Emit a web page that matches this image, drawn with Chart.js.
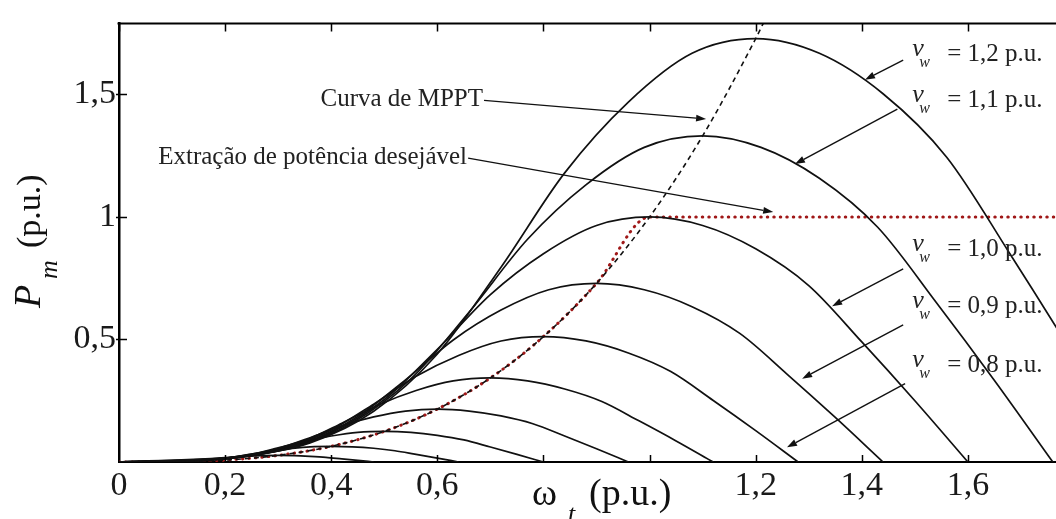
<!DOCTYPE html>
<html><head><meta charset="utf-8">
<script src="https://cdn.jsdelivr.net/npm/chart.js@4.4.0/dist/chart.umd.min.js"></script>
<style>html,body{margin:0;padding:0;background:#fff;overflow:hidden}#wrap{width:1056px;height:519px;position:relative}</style>
</head><body><div id="wrap"><canvas id="c"></canvas></div>
<script>
// ---- tick labels ----
const xTickLabels = ['0','0,2','0,4','0,6','','','1,2','1,4','1,6'];
const yTickLabels = ['','0,5','1','1,5'];

// ---- power curves P_m(omega_t) for each wind speed v_w, points [omega, P] ----
const curve_12 = [[0,0],[0.24,0.026],[0.36,0.078],[0.48,0.207],[0.60,0.441],[0.72,0.795],[0.84,1.180],[0.96,1.469],[1.08,1.668],[1.20,1.728],[1.32,1.668],[1.44,1.503],[1.56,1.244],[1.68,0.847],[1.80,0.432],[1.92,0]];
const curve_11 = [[0,0],[0.22,0.020],[0.33,0.060],[0.44,0.160],[0.55,0.339],[0.66,0.612],[0.77,0.909],[0.88,1.131],[0.99,1.284],[1.10,1.331],[1.21,1.284],[1.32,1.158],[1.43,0.958],[1.54,0.652],[1.65,0.333],[1.76,0]];
const curve_10 = [[0,0],[0.20,0.015],[0.30,0.045],[0.40,0.120],[0.50,0.255],[0.60,0.460],[0.70,0.683],[0.80,0.850],[0.90,0.965],[1.00,1.000],[1.10,0.965],[1.20,0.870],[1.30,0.720],[1.40,0.490],[1.50,0.250],[1.60,0]];
const curve_09 = [[0,0],[0.18,0.011],[0.27,0.033],[0.36,0.087],[0.45,0.186],[0.54,0.335],[0.63,0.498],[0.72,0.620],[0.81,0.703],[0.90,0.729],[0.99,0.703],[1.08,0.634],[1.17,0.525],[1.26,0.357],[1.35,0.182],[1.44,0]];
const curve_08 = [[0,0],[0.16,0.008],[0.24,0.023],[0.32,0.061],[0.40,0.131],[0.48,0.236],[0.56,0.350],[0.64,0.435],[0.72,0.494],[0.80,0.512],[0.88,0.494],[0.96,0.445],[1.04,0.369],[1.12,0.251],[1.20,0.128],[1.28,0]];
const curve_07 = [[0,0],[0.14,0.005],[0.21,0.015],[0.28,0.041],[0.35,0.087],[0.42,0.158],[0.49,0.234],[0.56,0.292],[0.63,0.331],[0.70,0.343],[0.77,0.331],[0.84,0.298],[0.91,0.247],[0.98,0.168],[1.05,0.086],[1.12,0]];
const curve_06 = [[0,0],[0.12,0.003],[0.18,0.010],[0.24,0.026],[0.30,0.055],[0.36,0.099],[0.42,0.148],[0.48,0.184],[0.54,0.208],[0.60,0.216],[0.66,0.208],[0.72,0.188],[0.78,0.156],[0.84,0.106],[0.90,0.054],[0.96,0]];
const curve_05 = [[0,0],[0.10,0.002],[0.15,0.006],[0.20,0.015],[0.25,0.032],[0.30,0.058],[0.35,0.085],[0.40,0.106],[0.45,0.121],[0.50,0.125],[0.55,0.121],[0.60,0.109],[0.65,0.090],[0.70,0.061],[0.75,0.031],[0.80,0]];
const curve_04 = [[0,0],[0.08,0.001],[0.12,0.003],[0.16,0.008],[0.20,0.016],[0.24,0.029],[0.28,0.044],[0.32,0.054],[0.36,0.062],[0.40,0.064],[0.44,0.062],[0.48,0.056],[0.52,0.046],[0.56,0.031],[0.60,0.016],[0.64,0]];
const curve_03 = [[0,0],[0.06,0],[0.09,0.001],[0.12,0.003],[0.15,0.007],[0.18,0.012],[0.21,0.018],[0.24,0.023],[0.27,0.026],[0.30,0.027],[0.33,0.026],[0.36,0.023],[0.39,0.019],[0.42,0.013],[0.45,0.007],[0.48,0]];

// MPPT curve (locus of the maxima)
const mpptCurve = [[0,0],[0.1,0.001],[0.2,0.008],[0.3,0.027],[0.4,0.064],[0.5,0.125],[0.6,0.216],[0.7,0.343],[0.8,0.512],[0.9,0.729],[1.0,1.0],[1.1,1.331],[1.2,1.728],[1.22,1.816]];
// desired power extraction
const desiredCurve = [[0,0],[0.1,0.001],[0.2,0.008],[0.3,0.027],[0.4,0.064],[0.5,0.125],[0.6,0.216],[0.7,0.343],[0.8,0.512],[0.9,0.729],[1.0,1.0],[1.8,1.0]];

// ---- annotation texts ----
const windLabels = ['= 1,2 p.u.','= 1,1 p.u.','= 1,0 p.u.','= 0,9 p.u.','= 0,8 p.u.'];
const mpptLabel = 'Curva de MPPT';
const desiredLabel = 'Extração de potência desejável';

// annotation anchors in data coordinates
const windLabelAnchors = [[1.495,1.636],[1.495,1.448],[1.495,0.84],[1.495,0.608],[1.495,0.368]];
const windArrows = [
  [[1.478,1.64],[1.406,1.56]],
  [[1.467,1.44],[1.274,1.216]],
  [[1.478,0.788],[1.344,0.636]],
  [[1.478,0.56],[1.2875,0.34]],
  [[1.4816,0.32],[1.259,0.06]]
];
const mpptArrow = [[0.688,1.476],[1.1065,1.40]];
const desiredArrow = [[0.658,1.24],[1.233,1.02]];
const mpptLabelAnchor = [0.686,1.48];
const desiredLabelAnchor = [0.656,1.244];

const toXY = arr => arr.map(p => ({x:p[0], y:p[1]}));
const SERIF = '"Liberation Serif", "Times New Roman", serif';

const curveList = [curve_12,curve_11,curve_10,curve_09,curve_08,curve_07,curve_06,curve_05,curve_04,curve_03];
const datasets = curveList.map(c => ({
  data: toXY(c), showLine:true, pointRadius:0, borderColor:'#111', borderWidth:1.7,
  cubicInterpolationMode:'monotone', fill:false
}));
datasets.push({data: toXY(mpptCurve), showLine:true, pointRadius:0, borderColor:'#111', borderWidth:1.6,
  borderDash:[5,4], cubicInterpolationMode:'monotone', fill:false});
datasets.push({data: toXY(desiredCurve), showLine:true, pointRadius:0, borderColor:'#a01818', borderWidth:3,
  borderDash:[0.5,6], borderCapStyle:'round', cubicInterpolationMode:'monotone', fill:false});

function arrow(ctx, x1, y1, x2, y2) {
  const ang = Math.atan2(y2-y1, x2-x1);
  const L = 10, W = 3.5;
  const bx = x2 - L*Math.cos(ang), by = y2 - L*Math.sin(ang);
  ctx.beginPath(); ctx.moveTo(x1,y1); ctx.lineTo(bx,by); ctx.stroke();
  ctx.beginPath();
  ctx.moveTo(x2,y2);
  ctx.lineTo(bx + W*Math.sin(ang), by - W*Math.cos(ang));
  ctx.lineTo(bx - W*Math.sin(ang), by + W*Math.cos(ang));
  ctx.closePath(); ctx.fill();
}

const framePlugin = {
  id:'frame',
  afterDraw(chart) {
    const {ctx, chartArea:a, scales:{x, y}} = chart;
    ctx.save();
    ctx.strokeStyle = '#000';
    ctx.lineWidth = 2;
    ctx.beginPath(); ctx.moveTo(a.left-1.5, a.top); ctx.lineTo(a.right, a.top); ctx.stroke();
    ctx.lineWidth = 1.5;
    ctx.beginPath();
    x.ticks.forEach(t => {
      const px = Math.round(x.getPixelForValue(t.value)) + 0.5;
      if (t.value > 0.01) { ctx.moveTo(px, a.bottom); ctx.lineTo(px, a.bottom-7); }
      ctx.moveTo(px, a.top); ctx.lineTo(px, a.top+8);
    });
    y.ticks.forEach(t => {
      if (t.value < 0.01) return;
      const py = Math.round(y.getPixelForValue(t.value)) + 0.5;
      ctx.moveTo(a.left-3, py); ctx.lineTo(a.left+8, py);
    });
    ctx.stroke();
    ctx.restore();
  }
};

const annotPlugin = {
  id:'annot',
  afterDatasetsDraw(chart) {
    const {ctx, scales:{x, y}} = chart;
    const X = v => x.getPixelForValue(v), Y = v => y.getPixelForValue(v);
    ctx.save();
    ctx.strokeStyle = '#111'; ctx.fillStyle = '#111'; ctx.lineWidth = 1.4;
    windArrows.forEach(a => arrow(ctx, X(a[0][0]), Y(a[0][1]), X(a[1][0]), Y(a[1][1])));
    arrow(ctx, X(mpptArrow[0][0]), Y(mpptArrow[0][1]), X(mpptArrow[1][0]), Y(mpptArrow[1][1]));
    arrow(ctx, X(desiredArrow[0][0]), Y(desiredArrow[0][1]), X(desiredArrow[1][0]), Y(desiredArrow[1][1]));

    ctx.fillStyle = '#222';
    ctx.textBaseline = 'middle'; ctx.textAlign = 'right';
    ctx.font = '25px ' + SERIF;
    ctx.fillText(mpptLabel, X(mpptLabelAnchor[0]), Y(mpptLabelAnchor[1]));
    ctx.fillText(desiredLabel, X(desiredLabelAnchor[0]), Y(desiredLabelAnchor[1]));

    ctx.textBaseline = 'alphabetic'; ctx.textAlign = 'left';
    windLabels.forEach((txt, i) => {
      const px = X(windLabelAnchors[i][0]), py = Y(windLabelAnchors[i][1]);
      ctx.font = 'italic 26px ' + SERIF;
      ctx.fillText('v', px, py - 5);
      ctx.font = 'italic 16px ' + SERIF;
      ctx.fillText('w', px + 7, py + 6);
      ctx.font = '25px ' + SERIF;
      ctx.fillText(txt, px + 35, py);
    });

    // axis titles
    ctx.fillStyle = '#111';
    ctx.font = '38px ' + SERIF;
    ctx.fillText('\u03C9', 532, 505);
    ctx.font = 'italic 26px ' + SERIF;
    ctx.fillText('t', 568, 522);
    ctx.font = '38px ' + SERIF;
    ctx.fillText('(p.u.)', 589, 505);

    ctx.translate(40, 308);
    ctx.rotate(-Math.PI/2);
    ctx.font = 'italic 38px ' + SERIF;
    ctx.fillText('P', 0, 0);
    ctx.font = 'italic 26px ' + SERIF;
    ctx.fillText('m', 29, 17);
    ctx.font = '34px ' + SERIF;
    ctx.fillText('(p.u.)', 60, 0);
    ctx.restore();
  }
};

new Chart(document.getElementById('c'), {
  type:'scatter',
  data:{datasets},
  options:{
    responsive:true, maintainAspectRatio:false, animation:false,
    layout:{padding:{top:14,right:0,left:0,bottom:0}, autoPadding:false},
    plugins:{legend:{display:false}, tooltip:{enabled:false}},
    scales:{
      x:{type:'linear', min:0, max:1.766,
        afterFit: s => { s.height = 57; },
        border:{display:true, color:'#000', width:2},
        grid:{drawOnChartArea:false, drawTicks:false},
        ticks:{stepSize:0.2, includeBounds:false, autoSkip:false, maxRotation:0, padding:4, color:'#1a1a1a',
          font:{family:SERIF, size:34},
          callback:(v,i) => xTickLabels[i] ?? ''}
      },
      y:{type:'linear', min:0, max:1.79,
        afterFit: s => { s.width = 119; },
        border:{display:true, color:'#000', width:2.5},
        grid:{drawOnChartArea:false, drawTicks:false},
        ticks:{stepSize:0.5, includeBounds:false, padding:3, color:'#1a1a1a',
          font:{family:SERIF, size:34},
          callback:(v,i) => yTickLabels[i] ?? ''}
      }
    }
  },
  plugins:[framePlugin, annotPlugin]
});
</script>
</body></html>
